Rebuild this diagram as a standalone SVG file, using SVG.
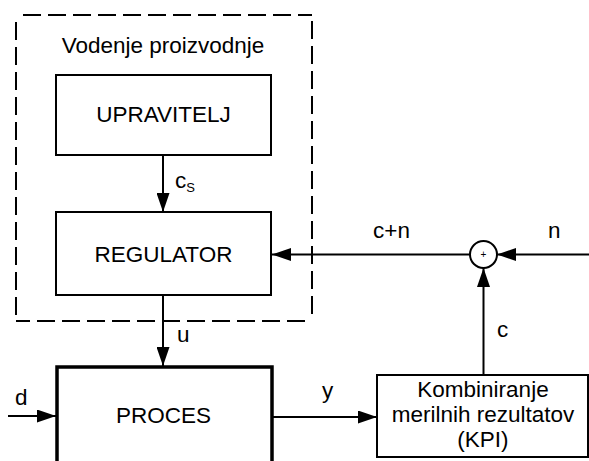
<svg xmlns="http://www.w3.org/2000/svg" width="589" height="461" viewBox="0 0 589 461">
<style>
.box{fill:#fff;stroke:#000;stroke-width:2}
.thick{fill:#fff;stroke:#000;stroke-width:3.5}
.ln{fill:none;stroke:#000;stroke-width:2}
.dash{fill:none;stroke:#000;stroke-width:2;stroke-dasharray:18 7;stroke-dashoffset:18}
text{font-family:"Liberation Sans",Arial,sans-serif;font-size:22.5px;fill:#000}
.c{text-anchor:middle}
</style>
<defs>
<marker id="ah" markerUnits="userSpaceOnUse" markerWidth="19" markerHeight="13" refX="19" refY="6.5" orient="auto">
<path d="M0,0 L19,6.5 L0,13 Z" fill="#000"/>
</marker>
</defs>
<g id="group-vodenje">
<path class="dash" d="M16,15 H312"/>
<path class="dash" d="M16,15 V321"/>
<path class="dash" d="M312,321 H16"/>
<path class="dash" d="M312,321 V15"/>
<text x="163" y="53" class="c">Vodenje proizvodnje</text>
</g>
<g id="node-upravitelj">
<rect class="box" x="56" y="75" width="215" height="80"/>
<text x="163.5" y="122" class="c">UPRAVITELJ</text>
</g>
<g id="node-regulator">
<rect class="box" x="56" y="212" width="215" height="83"/>
<text x="163.5" y="262" class="c">REGULATOR</text>
</g>
<g id="node-proces">
<path class="thick" d="M57,470 L57,367 L272,367 L272,470"/>
<text x="163.5" y="423" class="c">PROCES</text>
</g>
<g id="node-kpi">
<rect class="box" x="377" y="375" width="211" height="82"/>
<text x="483" y="397" class="c">Kombiniranje</text>
<text x="483" y="422" class="c">merilnih rezultatov</text>
<text x="483" y="447" class="c">(KPI)</text>
</g>
<g id="node-sum">
<circle cx="483.5" cy="254.5" r="13.5" fill="#fff" stroke="#000" stroke-width="2"/>
<text x="483.5" y="258" class="c" style="font-size:10px">+</text>
</g>
<g id="connectors">
<line class="ln" x1="163" y1="155" x2="163" y2="212" marker-end="url(#ah)"/>
<line class="ln" x1="163" y1="295" x2="163" y2="366" marker-end="url(#ah)"/>
<line class="ln" x1="8" y1="416" x2="56" y2="416" marker-end="url(#ah)"/>
<line class="ln" x1="272" y1="417" x2="377" y2="417" marker-end="url(#ah)"/>
<line class="ln" x1="483.5" y1="375" x2="483.5" y2="268" marker-end="url(#ah)"/>
<line class="ln" x1="589" y1="254.5" x2="497" y2="254.5" marker-end="url(#ah)"/>
<line class="ln" x1="470" y1="254.5" x2="272" y2="254.5" marker-end="url(#ah)"/>
</g>
<g id="labels">
<text x="175" y="188">c<tspan style="font-size:13px" dy="4">S</tspan></text>
<text x="177" y="342">u</text>
<text x="15" y="405">d</text>
<text x="322" y="398">y</text>
<text x="373" y="238">c+n</text>
<text x="548" y="238">n</text>
<text x="497" y="337">c</text>
</g>
</svg>
